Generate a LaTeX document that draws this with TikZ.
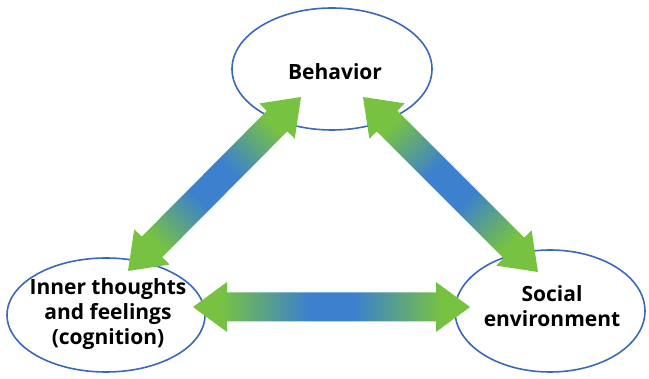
\documentclass[tikz,border=0pt]{standalone}
\usepackage{fontspec}
\setmainfont{Open Sans}
\usetikzlibrary{calc,shapes.geometric}
\definecolor{argreen}{RGB}{120,194,66}
\definecolor{arblue}{RGB}{60,128,206}
\definecolor{elline}{RGB}{58,105,185}
\pgfdeclarehorizontalshading{arshade}{100bp}{color(0bp)=(argreen); color(30bp)=(argreen); color(46bp)=(arblue); color(54bp)=(arblue); color(70bp)=(argreen); color(100bp)=(argreen)}
\pgfdeclarehorizontalshading{arshadediag}{100bp}{color(0bp)=(argreen); color(26bp)=(argreen); color(44bp)=(arblue); color(56bp)=(arblue); color(74bp)=(argreen); color(100bp)=(argreen)}
\newcommand\mydblarrow[3]{%
  \path[#3] (#1)
    -- ($(#1)!34pt!(#2)!25pt!90:(#2)$)
    -- ($(#1)!34pt!(#2)!14.5pt!90:(#2)$)
    -- ($(#2)!34pt!(#1)!14.5pt!-90:(#1)$)
    -- ($(#2)!34pt!(#1)!25pt!-90:(#1)$)
    -- (#2)
    -- ($(#2)!34pt!(#1)!25pt!90:(#1)$)
    -- ($(#2)!34pt!(#1)!14.5pt!90:(#1)$)
    -- ($(#1)!34pt!(#2)!14.5pt!-90:(#2)$)
    -- ($(#1)!34pt!(#2)!25pt!-90:(#2)$)
    -- cycle;}
\tikzset{
  bubble/.style={ellipse, draw=elline, line width=1.6pt, fill=white, inner sep=0pt},
  label text/.style={font=\fontsize{21}{25}\selectfont\bfseries, align=center, inner sep=0pt},
  arrowfill/.style={shade, shading=arshade, shading angle=#1},
  diagfill/.style={shade, shading=arshadediag, shading angle=#1},
}
\begin{document}
\begin{tikzpicture}[x=1pt,y=-1pt]
\useasboundingbox[fill=white] (0,0) rectangle (649,379);
\node[bubble, minimum width=200pt, minimum height=122pt] (beh) at (332,69) {};
\node[bubble, minimum width=198pt, minimum height=114pt] (inn) at (106,315) {};
\node[bubble, minimum width=190pt, minimum height=122pt] (soc) at (550,311) {};
\node[label text] (behT) at (335,72) {Behavior};
\node[label text] (innT) at (108,314) {Inner thoughts\\and feelings\\(cognition)};
\node[label text] (socT) at (552,306) {Social\\environment};
\coordinate (hA) at (193,307);
\coordinate (hB) at (470,307);
\coordinate (lA) at (128,271);
\coordinate (lB) at (301,97);
\coordinate (rA) at (363,97);
\coordinate (rB) at (538,272);
\mydblarrow{hA}{hB}{arrowfill=0}
\mydblarrow{lA}{lB}{diagfill=45}
\mydblarrow{rA}{rB}{diagfill=-45}
\end{tikzpicture}
\end{document}
